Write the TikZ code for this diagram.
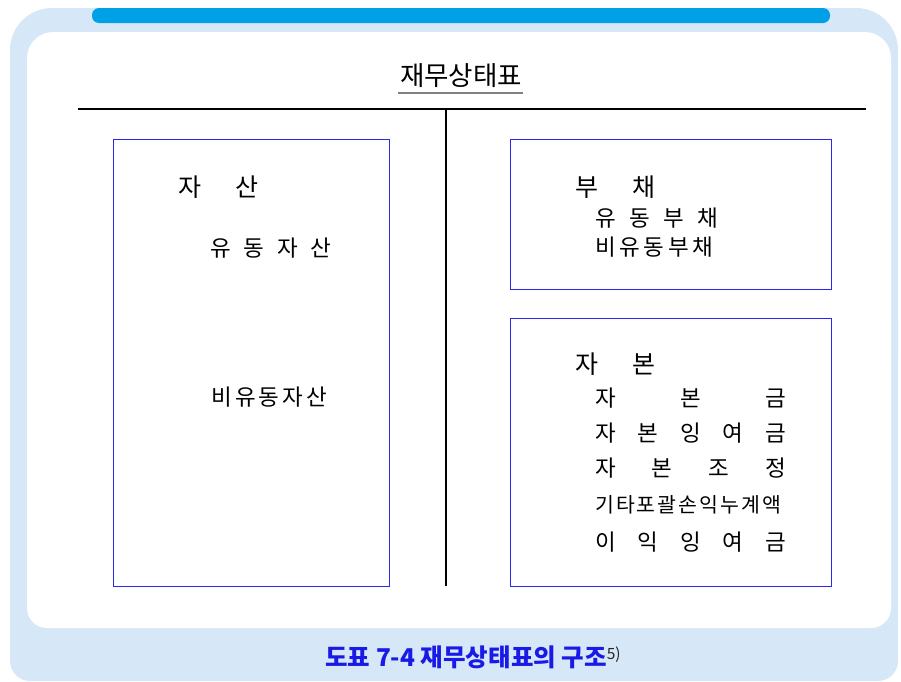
\documentclass[tikz,border=0pt]{standalone}
\usepackage{fontspec}
\setmainfont{Noto Sans CJK KR}
\definecolor{bgblue}{RGB}{214,232,247}
\definecolor{barblue}{RGB}{0,160,230}
\definecolor{boxblue}{RGB}{40,40,240}
\definecolor{capblue}{RGB}{26,26,230}
\tikzset{
  frame/.style={draw=boxblue, line width=0.9pt, inner sep=0pt},
  rule/.style={draw=black, line width=1.6pt},
  head/.style={anchor=west, inner sep=0pt, font=\fontsize{25}{27}\selectfont},
  item/.style={anchor=west, inner sep=0pt, font=\fontsize{22.5}{24}\selectfont},
}
\begin{document}
\begin{tikzpicture}[x=1pt,y=-1pt]
\useasboundingbox (0,0) rectangle (901,681);
% background band (top corners wider than bottom corners)
\fill[bgblue, rounded corners=42pt] (10,8) rectangle (898,400);
\fill[bgblue, rounded corners=20pt] (10,300) rectangle (898,681);
\fill[white, rounded corners=26pt] (27,32) rectangle (891,400);
\fill[white, rounded corners=20pt] (27,300) rectangle (891,628);
\fill[barblue, rounded corners=7pt] (92,8) rectangle (830,23);
% title
\node[inner sep=0pt, font=\fontsize{26.5}{28}\selectfont] (title) at (461,76) {재무상태표};
\coordinate (ulA) at (398,93);
\coordinate (ulB) at (523,93);
\draw[gray, line width=1.3pt] (ulA) -- (ulB);
% rules
\coordinate (hA) at (78,109);
\coordinate (hB) at (866,109);
\coordinate (vT) at (446,109);
\coordinate (vB) at (446,586);
\draw[rule] (hA) -- (hB);
\draw[rule] (vT) -- (vB);
% boxes
\node[frame, minimum width=276pt, minimum height=447pt] (assets) at (251,362.5) {};
\node[frame, minimum width=321pt, minimum height=150pt] (liab) at (670.5,214) {};
\node[frame, minimum width=321pt, minimum height=268pt] (equity) at (670.5,452) {};
% assets
\node[head] (aH) at (178,187) {\makebox[80pt][s]{자\hfill 산}};
\node[item] (a1) at (210,248) {\makebox[121pt][s]{유\hfill 동\hfill 자\hfill 산}};
\node[item] (a2) at (211,397) {\makebox[116pt][s]{비\hfill 유\hfill 동\hfill 자\hfill 산}};
% liabilities
\node[head] (lH) at (575,187) {\makebox[80pt][s]{부\hfill 채}};
\node[item] (l1) at (595,218) {\makebox[123pt][s]{유\hfill 동\hfill 부\hfill 채}};
\node[item] (l2) at (595,247) {\makebox[118pt][s]{비\hfill 유\hfill 동\hfill 부\hfill 채}};
% equity
\node[head] (eH) at (575,364) {\makebox[80pt][s]{자\hfill 본}};
\node[item] (e1) at (595,398) {\makebox[191pt][s]{자\hfill 본\hfill 금}};
\node[item] (e2) at (595,433) {\makebox[191pt][s]{자\hfill 본\hfill 잉\hfill 여\hfill 금}};
\node[item] (e3) at (595,468) {\makebox[191pt][s]{자\hfill 본\hfill 조\hfill 정}};
\node[item, font=\fontsize{20.5}{22}\selectfont] (e4) at (595,505) {\makebox[186pt][s]{기\hfill 타\hfill 포\hfill 괄\hfill 손\hfill 익\hfill 누\hfill 계\hfill 액}};
\node[item] (e5) at (595,542) {\makebox[191pt][s]{이\hfill 익\hfill 잉\hfill 여\hfill 금}};
% caption
\node[inner sep=0pt, font=\fontsize{24.5}{26}\selectfont\bfseries, text=capblue] (cap) at (473,657)
  {도표 7-4 재무상태표의 구조\raisebox{7pt}{\textcolor{black!85}{\fontsize{15.5}{16}\selectfont\mdseries 5)}}};
\end{tikzpicture}
\end{document}
